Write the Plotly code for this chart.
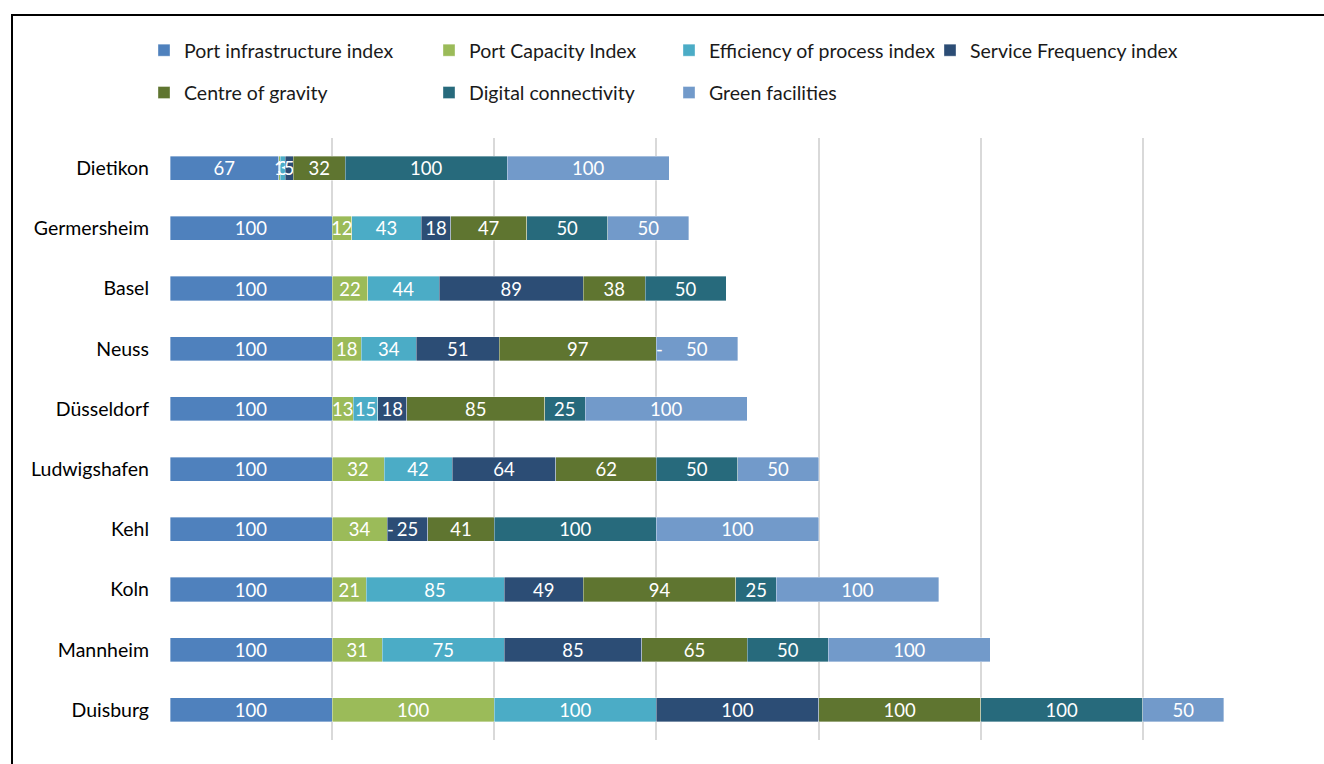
import plotly.graph_objects as go

# Ports, listed top to bottom
ports = ["Dietikon", "Germersheim", "Basel", "Neuss", "Düsseldorf",
         "Ludwigshafen", "Kehl", "Koln", "Mannheim", "Duisburg"]

# Index scores per port (None = not available)
port_infrastructure = [67, 100, 100, 100, 100, 100, 100, 100, 100, 100]
port_capacity = [1, 12, 22, 18, 13, 32, 34, 21, 31, 100]
efficiency_of_process = [3, 43, 44, 34, 15, 42, 0, 85, 75, 100]
service_frequency = [5, 18, 89, 51, 18, 64, 25, 49, 85, 100]
centre_of_gravity = [32, 47, 38, 97, 85, 62, 41, 94, 65, 100]
digital_connectivity = [100, 50, 50, 0, 25, 50, 100, 25, 50, 100]
green_facilities = [100, 50, None, 50, 100, 50, 100, 100, 100, 50]

series = [
    ("Port infrastructure index", port_infrastructure, "#4F81BD", "legend"),
    ("Port Capacity Index", port_capacity, "#9BBB59", "legend2"),
    ("Efficiency of process index", efficiency_of_process, "#4BACC6", "legend3"),
    ("Service Frequency index", service_frequency, "#2C4D75", "legend4"),
    ("Centre of gravity", centre_of_gravity, "#5F7530", "legend"),
    ("Digital connectivity", digital_connectivity, "#276A7C", "legend2"),
    ("Green facilities", green_facilities, "#729ACA", "legend3"),
]

FONT = "Lato, Calibri, sans-serif"
LABEL_SIZE = 18.5
TEXT_SIZE = 19.5
fig = go.Figure()

for i, (name, vals, color, lg) in enumerate(series):
    labels = ["" if (v is None or v == 0) else str(v) for v in vals]
    fig.add_trace(go.Bar(
        y=ports, x=vals, name=name, orientation="h",
        marker=dict(color=color, line=dict(color="rgba(255,255,255,0.6)", width=0.6)),
        text=labels, textposition="inside", insidetextanchor="middle",
        textangle=0, constraintext="none",
        textfont=dict(color="white", size=LABEL_SIZE, family=FONT),
        width=0.4, legend=lg, legendgroup=name, hoverinfo="x+y+name",
    ))

# Zero-valued segments are shown with a dash at their stacked position
annotations = []
for j, port in enumerate(ports):
    cum = 0
    for name, vals, color, lg in series:
        v = vals[j]
        if v is None:
            continue
        if v == 0:
            annotations.append(dict(x=cum, y=port, xref="x", yref="y", text="-",
                                    showarrow=False, xshift=3,
                                    font=dict(color="white", size=LABEL_SIZE, family=FONT)))
        cum += v

W, L, R, T, B = 1324, 170, 19, 138, 24
pw = W - L - R
ph = 764 - T - B

def px_x(p):
    return (p - L) / pw

def px_y(q):
    return (764 - B - q) / ph

legend_style = dict(orientation="v", xanchor="left", yanchor="top",
                    font=dict(size=TEXT_SIZE, family=FONT, color="#1a1a1a"),
                    bgcolor="rgba(0,0,0,0)", traceorder="grouped",
                    tracegroupgap=14, itemclick=False)
legend_y = px_y(31)

fig.update_layout(
    width=1324, height=764,
    barmode="stack",
    plot_bgcolor="white", paper_bgcolor="white",
    margin=dict(l=L, r=R, t=T, b=B),
    font=dict(family=FONT, size=TEXT_SIZE, color="#000000"),
    uniformtext=dict(minsize=LABEL_SIZE, mode="show"),
    xaxis=dict(range=[0, 700], dtick=100, showgrid=True, gridcolor="#D9D9D9",
               gridwidth=1.5, showticklabels=False, zeroline=False,
               showline=False, fixedrange=True),
    yaxis=dict(range=[9.5, -0.5], showgrid=False, zeroline=False,
               ticks="", ticklabelstandoff=20,
               tickfont=dict(size=TEXT_SIZE, family=FONT, color="#000000")),
    legend=dict(x=px_x(144), y=legend_y, **legend_style),
    legend2=dict(x=px_x(429), y=legend_y, **legend_style),
    legend3=dict(x=px_x(669), y=legend_y, **legend_style),
    legend4=dict(x=px_x(930), y=legend_y, **legend_style),
    annotations=annotations,
    shapes=[dict(type="rect", xref="paper", yref="paper",
                 x0=px_x(12), x1=px_x(1340), y0=px_y(780), y1=px_y(15),
                 line=dict(color="black", width=2), fillcolor="rgba(0,0,0,0)",
                 layer="above")],
)

fig.write_html("out.html")
